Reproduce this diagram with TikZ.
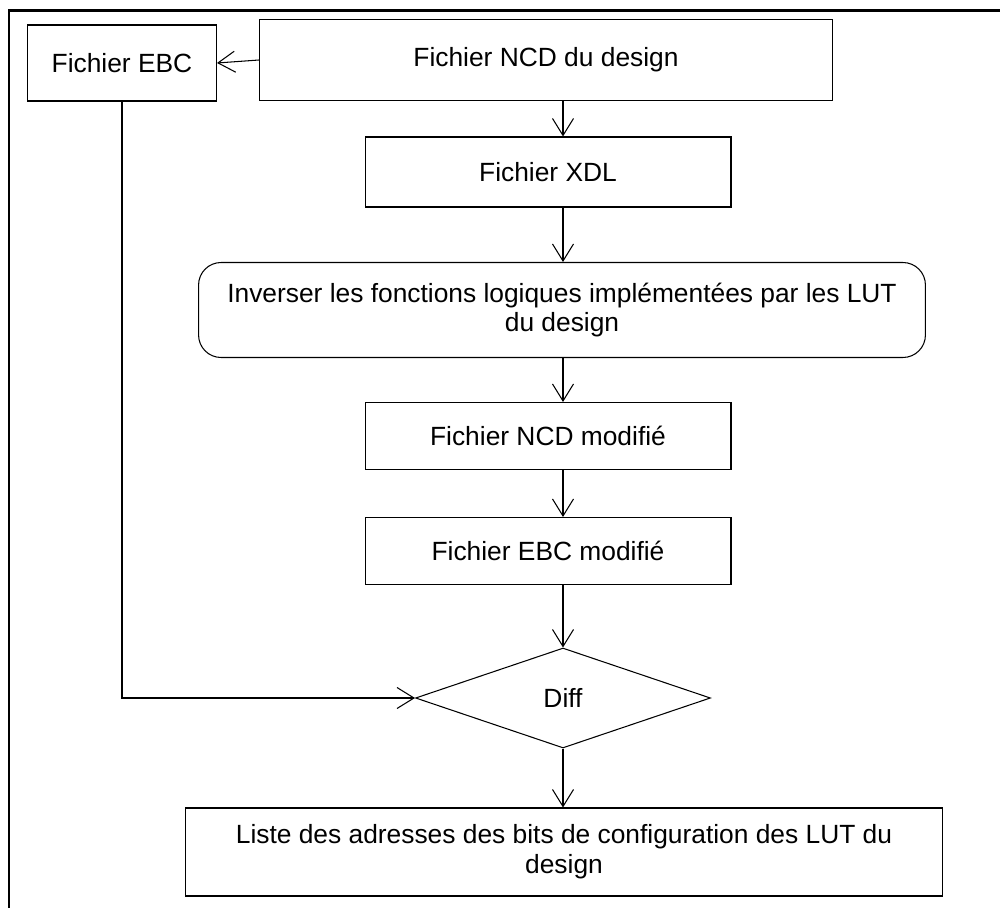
\documentclass[tikz,border=0pt]{standalone}
\usepackage{fontspec}
\setmainfont{Liberation Sans}
\usepackage{tikz}
\usetikzlibrary{shapes.geometric, arrows.meta, positioning, calc}

\begin{document}
\begin{tikzpicture}[
    x=0.02cm, y=-0.02cm,
    font=\fontsize{15}{17}\selectfont,
    box/.style={draw, line width=0.6pt, inner sep=2pt, align=center},
    procbox/.style={draw, line width=0.6pt, rounded corners=0.45cm, align=center},
    decision/.style={draw, line width=0.6pt, diamond, aspect=2.95, inner sep=0pt, minimum width=5.9cm, minimum height=2cm},
    arr/.style={-{Straight Barb[length=3.4mm, width=4.2mm]}, line width=0.6pt},
    pageframe/.style={line width=1.7pt},
]
\useasboundingbox (0,0) rectangle (1000,908);

% --- Page frame (open at bottom and right) ---
\draw[pageframe] (9,908) -- (9,11) -- (1000,11);

% --- Input files ---
\node[box, minimum width=3.78cm, minimum height=1.52cm] (ebc) at (122,63) {Fichier EBC};
\node[box, minimum width=11.46cm, minimum height=1.62cm] (ncd) at (546,60) {Fichier NCD du design};

% --- Processing chain ---
\node[box, minimum width=7.32cm, minimum height=1.4cm] (xdl) at (548,172) {Fichier XDL};
\node[procbox, minimum width=14.54cm, minimum height=1.9cm] (inv) at (562,310)
    {Inverser les fonctions logiques implémentées par les LUT\\du design};
\node[box, minimum width=7.32cm, minimum height=1.34cm] (ncdmod) at (548,436) {Fichier NCD modifié};
\node[box, minimum width=7.32cm, minimum height=1.34cm] (ebcmod) at (548,551) {Fichier EBC modifié};

% --- Comparison ---
\node[decision] (diff) at (563,698) {Diff};

% --- Result ---
\node[box, minimum width=15.14cm, minimum height=1.76cm] (liste) at (564,852)
    {Liste des adresses des bits de configuration des LUT du\\design};

% --- Connectors ---
\draw[arr] (ncd.west) -- (ebc.east);
\draw[arr] (ncd.south -| diff.north) -- (xdl.north -| diff.north);
\draw[arr] (xdl.south -| diff.north) -- (inv.north -| diff.north);
\draw[arr] (inv.south -| diff.north) -- (ncdmod.north -| diff.north);
\draw[arr] (ncdmod.south -| diff.north) -- (ebcmod.north -| diff.north);
\draw[arr] (ebcmod.south -| diff.north) -- (diff.north);
\draw[arr] (diff.south) -- (liste.north -| diff.south);
\draw[arr] (ebc.south) |- (diff.west);

\end{tikzpicture}
\end{document}
